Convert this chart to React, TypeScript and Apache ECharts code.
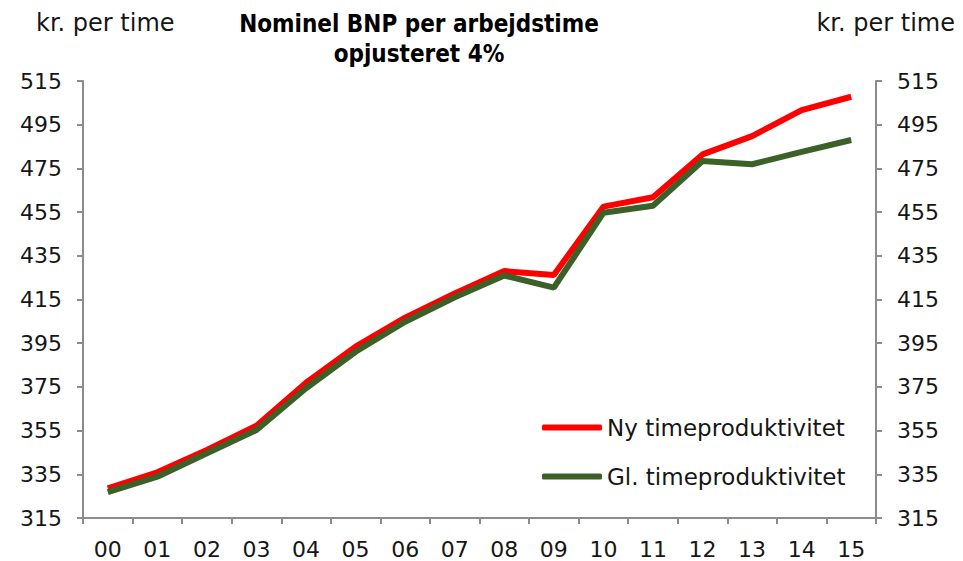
import React, { useEffect, useRef } from "react";
import * as echarts from "echarts";

const categories = ["00","01","02","03","04","05","06","07","08","09","10","11","12","13","14","15"];
const nyValues = [328.6, 335.9, 346.1, 357.2, 376.9, 393.4, 406.7, 417.8, 428.0, 426.2, 457.5, 461.8, 481.4, 489.8, 501.7, 507.8];
const glValues = [326.8, 333.9, 344.6, 355.3, 374.4, 391.1, 404.8, 416.0, 426.0, 420.4, 454.7, 457.9, 478.4, 476.9, 482.6, 488.0];
const seriesNames = ["Ny timeproduktivitet", "Gl. timeproduktivitet"];
const titleText = "Nominel BNP per arbejdstime\nopjusteret 4%";
const unitText = "kr. per time";

const FONT = "DejaVu Sans, Verdana, sans-serif";
const TITLE_FONT = "DejaVu Sans Condensed, DejaVu Sans, sans-serif";
const AXIS_COLOR = "#8c8c8c";
const TEXT_COLOR = "#161616";

export default function App() {
  const ref = useRef<HTMLDivElement>(null);
  useEffect(() => {
    if (!ref.current) return;
    const chart = echarts.init(ref.current, null, { renderer: "svg" });
    const yAxisBase = {
      type: "value",
      min: 315,
      max: 515,
      interval: 20,
      axisLine: { show: true, lineStyle: { color: AXIS_COLOR, width: 2 } },
      axisTick: { show: true, length: 6, lineStyle: { color: AXIS_COLOR, width: 2 } },
      axisLabel: { color: TEXT_COLOR, fontSize: 22, fontFamily: FONT, margin: 21 },
      splitLine: { show: false },
    };
    chart.setOption({
      animation: false,
      backgroundColor: "#fff",
      title: {
        text: titleText,
        left: 414,
        textAlign: "center",
        top: 4,
        textStyle: { fontFamily: TITLE_FONT, fontSize: 24, fontWeight: "bold", color: "#000", lineHeight: 30 },
      },
      graphic: [
        { type: "text", left: 36, top: 11, style: { text: unitText, fontFamily: FONT, fontSize: 24, fill: TEXT_COLOR } },
        { type: "text", right: 8, top: 11, style: { text: unitText, fontFamily: FONT, fontSize: 24, fill: TEXT_COLOR } },
      ],
      legend: {
        orient: "vertical",
        left: 537,
        top: 411,
        itemWidth: 60,
        itemHeight: 6,
        itemGap: 26,
        icon: "roundRect",
        textStyle: { fontFamily: FONT, fontSize: 23, color: TEXT_COLOR, padding: [0, 0, 0, 0] },
        data: seriesNames,
      },
      grid: { left: 83, right: 87, top: 81, bottom: 43, containLabel: false },
      xAxis: {
        type: "category",
        data: categories,
        boundaryGap: true,
        axisLine: { show: true, lineStyle: { color: AXIS_COLOR, width: 2 } },
        axisTick: { show: true, length: 6, alignWithLabel: false, lineStyle: { color: AXIS_COLOR, width: 2 } },
        axisLabel: { color: TEXT_COLOR, fontSize: 22, fontFamily: FONT, margin: 20 },
      },
      yAxis: [
        { ...yAxisBase, position: "left" },
        { ...yAxisBase, position: "right" },
      ],
      series: [
        {
          name: seriesNames[0],
          type: "line",
          data: nyValues,
          yAxisIndex: 0,
          symbol: "none",
          lineStyle: { color: "#ff0000", width: 6 },
          itemStyle: { color: "#ff0000" },
          z: 2,
        },
        {
          name: seriesNames[1],
          type: "line",
          data: glValues,
          yAxisIndex: 0,
          symbol: "none",
          lineStyle: { color: "#3b6129", width: 6 },
          itemStyle: { color: "#3b6129" },
          z: 3,
        },
      ],
    });
    return () => chart.dispose();
  }, []);
  return <div ref={ref} style={{ width: 963, height: 561, position: "absolute", left: 0, top: 0 }} />;
}
